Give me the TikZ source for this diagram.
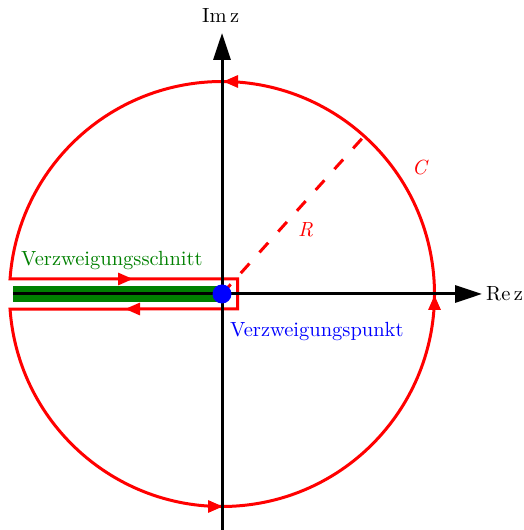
\documentclass[tikz,border=0pt]{standalone}
\usepackage{fontspec}
\setmainfont{lmroman10-regular.otf}[ItalicFont=lmroman10-italic.otf]
\usetikzlibrary{arrows.meta}
\begin{document}
\begin{tikzpicture}[x=1pt,y=1pt,
  axis/.style={line width=3pt,-{Triangle[length=27pt,width=17pt]}},
  contour/.style={red,line width=3pt},
  carrow/.style={red,line width=3pt,-{Triangle[length=15pt,width=12pt]}},
  lbl/.style={inner sep=0pt,anchor=base west,font=\fontsize{20.5}{24}\selectfont}]
\useasboundingbox (0,0) rectangle (523,530);
\coordinate (O) at (222,236);
% branch cut band
\fill[green!50!black] (13,228) rectangle (222,244);
% keyhole contour
\draw[contour] (O) ++(184.05:212.5) coordinate (s)
  arc[start angle=184.05,end angle=535.95,radius=212.5] coordinate (e)
  -- (237.5,251) -- (237.5,221) -- cycle;
% contour arrows
\coordinate (a1) at (118,251); \coordinate (b1) at (133,251);
\coordinate (a2) at (140,221); \coordinate (b2) at (125,221);
\coordinate (a3) at (238,448.5); \coordinate (b3) at (223,448.5);
\coordinate (a4) at (208,23.5); \coordinate (b4) at (223,23.5);
\coordinate (a5) at (434.5,220); \coordinate (b5) at (434.5,235);
\draw[carrow] (a1) -- (b1);
\draw[carrow] (a2) -- (b2);
\draw[carrow] (a3) -- (b3);
\draw[carrow] (a4) -- (b4);
\draw[carrow] (a5) -- (b5);
% axes
\coordinate (xs) at (13,236); \coordinate (xe) at (482,236);
\coordinate (ys) at (222,0); \coordinate (ye) at (222,497);
\draw[axis] (xs) -- (xe);
\draw[axis] (ys) -- (ye);
% radius
\draw[red,line width=3pt,dash pattern=on 13pt off 15pt] (O) -- ++(48:209.5) coordinate (rend);
% branch point
\fill[blue] (O) circle[radius=9.5pt];
% labels
\node[lbl] (im) at (202,507) {Im\,z};
\node[lbl] (re) at (486,229) {Re\,z};
\node[lbl,red] (rl) at (298,293) {\itshape R};
\node[lbl,red] (cl) at (412,355) {\itshape C};
\node[lbl,green!50!black] (cut) at (21,264) {Verzweigungsschnitt};
\node[lbl,blue] (pt) at (230,193) {Verzweigungspunkt};
\end{tikzpicture}
\end{document}
